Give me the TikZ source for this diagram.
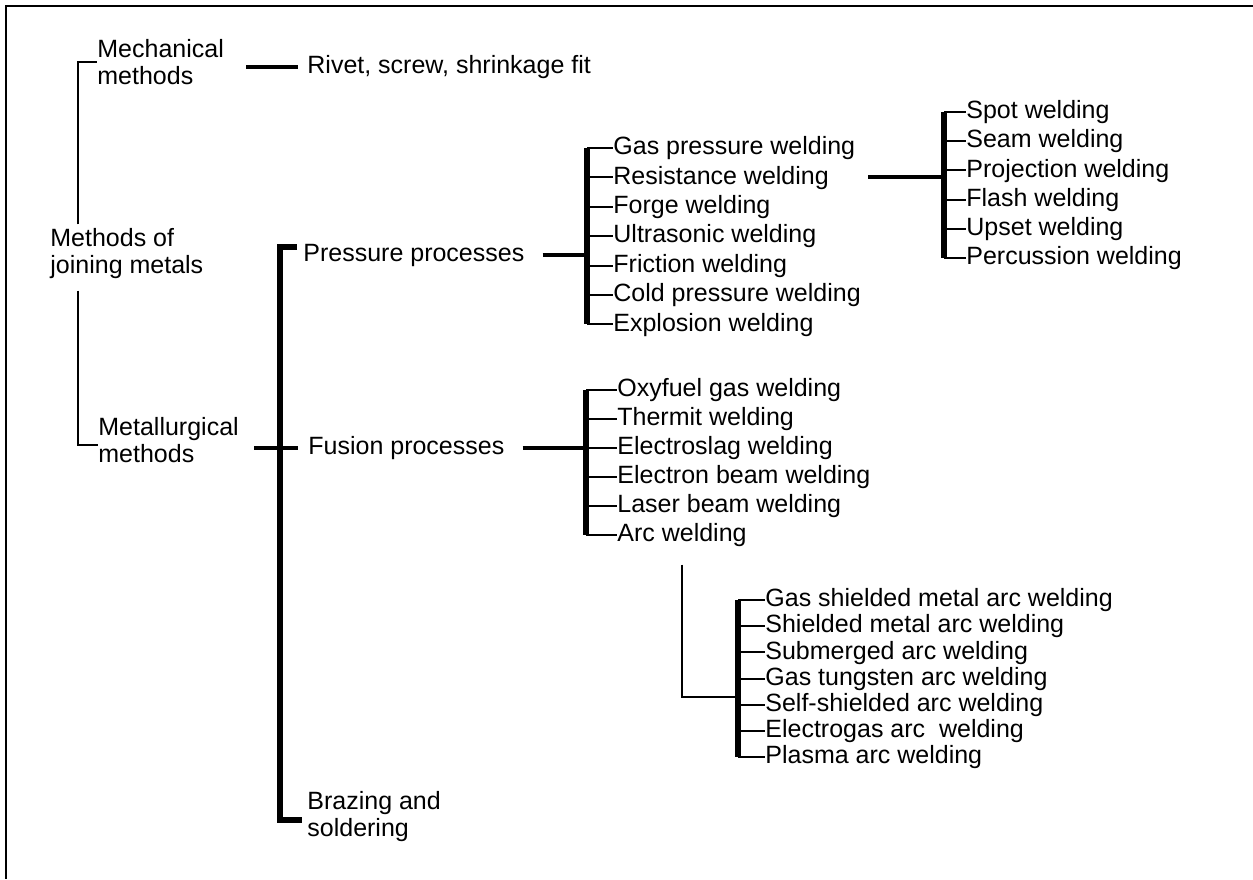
\documentclass[tikz,border=0pt]{standalone}
\usepackage{fontspec}
\setmainfont{Liberation Sans}
\usetikzlibrary{calc}
\begin{document}
\begin{tikzpicture}[x=0.5pt,y=-0.5pt,
  txt/.style={anchor=west,inner sep=0pt,align=left,font=\fontsize{12.5}{13.5}\selectfont},
  item/.style={anchor=west,inner sep=0pt,text height=1.5ex,text depth=.25ex,font=\fontsize{12.5}{13.5}\selectfont},
  brk/.style={line width=1.2pt},
  tick/.style={line width=1pt},
  link/.style={line width=2pt},
  spine/.style={line width=3pt}]
\useasboundingbox (0,0) rectangle (1253,879);
\draw[line width=1pt] (1253,6) -- (6,6) -- (6,879);

% first level
\node[txt] (root) at (50,254) {Methods of\\joining metals};
\node[txt] (mech) at (97,62) {Mechanical\\methods};
\node[txt] (metal) at (98,440) {Metallurgical\\methods};
\node[item] (rivet) at (307,67) {Rivet, screw, shrinkage fit};
\coordinate (rs) at (78,0);
\draw[brk] ($(rs |- root.north)+(0,-4)$) |- (mech.west);
\draw[brk] ($(rs |- root.south)+(0,11)$) |- ($(metal.west)+(0,5)$);
\draw[link] ($(mech.east |- rivet.west)+(22,0)$) -- ($(rivet.west)+(-9,0)$);

% processes
\node[item] (pp) at (303,255) {Pressure processes};
\node[item] (fp) at (308,448) {Fusion processes};
\node[txt] (braz) at (307,817) {Brazing and\\soldering};
\coordinate (ms) at (280,500);
\draw[spine,line width=2.6pt] ($(pp.west)+(-6,-8)$) -| (ms) |- ($(braz.west)+(-5,3)$);
\draw[link] ($(metal.east |- fp.west)+(15,0)$) -- ($(fp.west)+(-10,0)$);

% pressure processes
\coordinate (psp) at (587,0);
\foreach \t [count=\i] in {Gas pressure welding,Resistance welding,Forge welding,Ultrasonic welding,Friction welding,Cold pressure welding,Explosion welding}
  \node[item] (p\i) at (613,{148+29.4*(\i-1)}) {\t};
\foreach \i in {1,...,7}
  \draw[tick] (p\i.west -| psp) -- (p\i.west);
\draw[spine] (p1.west -| psp) -- (p7.west -| psp);
\draw[link] ($(pp.east)+(18,0)$) -- (pp.east -| psp);

% resistance welding
\coordinate (rsp) at (944,0);
\foreach \t [count=\i] in {Spot welding,Seam welding,Projection welding,Flash welding,Upset welding,Percussion welding}
  \node[item] (r\i) at (966,{112+29.2*(\i-1)}) {\t};
\foreach \i in {1,...,6}
  \draw[tick] (r\i.west -| rsp) -- (r\i.west);
\draw[spine] (r1.west -| rsp) -- (r6.west -| rsp);
\draw[link] ($(p2.east)+(39,0)$) -- (p2.east -| rsp);

% fusion processes
\coordinate (fsp) at (586,0);
\foreach \t [count=\i] in {Oxyfuel gas welding,Thermit welding,Electroslag welding,Electron beam welding,Laser beam welding,Arc welding}
  \node[item] (f\i) at (617,{390+29*(\i-1)}) {\t};
\foreach \i in {1,...,6}
  \draw[tick] (f\i.west -| fsp) -- (f\i.west);
\draw[spine] (f1.west -| fsp) -- (f6.west -| fsp);
\draw[link] ($(fp.east)+(18,0)$) -- (fp.east -| fsp);

% arc welding
\coordinate (asp) at (738,697);
\foreach \t [count=\i] in {Gas shielded metal arc welding,Shielded metal arc welding,Submerged arc welding,Gas tungsten arc welding,Self-shielded arc welding,Electrogas arc\ \ welding,Plasma arc welding}
  \node[item] (a\i) at (765,{600+26.2*(\i-1)}) {\t};
\foreach \i in {1,...,7}
  \draw[tick] (a\i.west -| asp) -- (a\i.west);
\draw[spine] (a1.west -| asp) -- (a7.west -| asp);
\draw[line width=1pt] ($(f6.south)+(0,20)$) |- (asp);
\end{tikzpicture}
\end{document}
